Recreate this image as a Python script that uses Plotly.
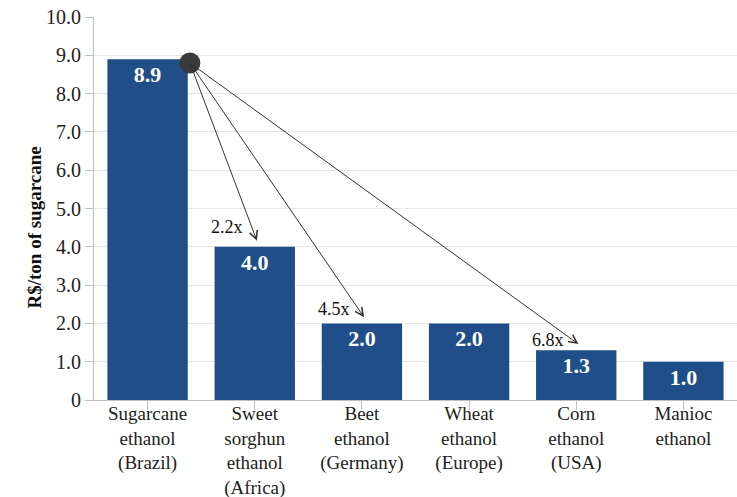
import plotly.graph_objects as go

# Ethanol yield by feedstock
categories = [
    "Sugarcane<br>ethanol<br>(Brazil)",
    "Sweet<br>sorghun<br>ethanol<br>(Africa)",
    "Beet<br>ethanol<br>(Germany)",
    "Wheat<br>ethanol<br>(Europe)",
    "Corn<br>ethanol<br>(USA)",
    "Manioc<br>ethanol",
]
values = [8.9, 4.0, 2.0, 2.0, 1.3, 1.0]
value_labels = ["8.9", "4.0", "2.0", "2.0", "1.3", "1.0"]

y_ticks = [0, 1, 2, 3, 4, 5, 6, 7, 8, 9, 10]
y_tick_text = ["0", "1.0", "2.0", "3.0", "4.0", "5.0", "6.0", "7.0", "8.0", "9.0", "10.0"]

# Ratio arrows: from the top corner of the first bar towards other bars
ratio_targets = [1, 2, 4]
ratio_labels = ["2.2x", "4.5x", "6.8x"]

FONT = "Palatino Linotype, Book Antiqua, Liberation Serif, serif"
BAR_COLOR = "#1f4e89"
BAR_WIDTH = 0.75

x_idx = list(range(len(categories)))

fig = go.Figure()
fig.add_trace(go.Bar(
    x=x_idx,
    y=values,
    width=BAR_WIDTH,
    marker=dict(color=BAR_COLOR, line=dict(width=0)),
    text=value_labels,
    textposition="inside",
    insidetextanchor="end",
    textangle=0,
    constraintext="none",
    textfont=dict(family=FONT, size=22, color="white", weight="bold"),
    hoverinfo="skip",
))

# Origin point of the arrows
origin_x = x_idx[0] + BAR_WIDTH / 2 + 0.02
origin_y = values[0] - 0.1

# pixel nudges for the ratio labels relative to each arrow tip
label_nudge_y = [14, 8, 4]

for tgt, lab, dy in zip(ratio_targets, ratio_labels, label_nudge_y):
    head_x = x_idx[tgt] + 0.02
    head_y = values[tgt] + 0.16
    fig.add_annotation(
        x=head_x, y=head_y, ax=origin_x, ay=origin_y,
        xref="x", yref="y", axref="x", ayref="y",
        showarrow=True, arrowhead=5, arrowsize=1.6, arrowwidth=1,
        arrowcolor="#333333", text="", standoff=0,
    )
    fig.add_annotation(
        x=head_x, y=head_y, xref="x", yref="y",
        xanchor="right", yanchor="middle", xshift=-12, yshift=dy,
        text=lab, showarrow=False,
        font=dict(family=FONT, size=18, color="#111111"),
    )

fig.add_trace(go.Scatter(
    x=[origin_x], y=[origin_y], mode="markers",
    marker=dict(size=21, color="#3a3a3a"),
    hoverinfo="skip", cliponaxis=False,
))

# Axis title
fig.add_annotation(
    xref="paper", yref="paper", x=-0.092, y=0.45,
    text="<b>R$/ton of sugarcane</b>", textangle=-90, showarrow=False,
    xanchor="center", yanchor="middle",
    font=dict(family=FONT, size=19, color="#111111"),
)

fig.update_layout(
    width=737, height=497,
    margin=dict(l=94, r=0, t=17, b=97),
    paper_bgcolor="white", plot_bgcolor="white",
    showlegend=False,
    font=dict(family=FONT, size=19, color="#222222"),
    bargap=0.25,
)
fig.update_xaxes(
    range=[-0.5, 5.5],
    tickvals=x_idx, ticktext=categories,
    tickson="boundaries", ticks="outside", ticklen=9,
    tickcolor="#bfbfbf", showline=True, linecolor="#bfbfbf",
    showgrid=False, tickfont=dict(family=FONT, size=19, color="#222222"),
    ticklabelstandoff=-13,
    automargin=False,
    fixedrange=True,
)
fig.update_yaxes(
    range=[0, 10],
    tickvals=y_ticks, ticktext=y_tick_text,
    ticks="outside", ticklen=8, tickcolor="#bfbfbf",
    showline=True, linecolor="#bfbfbf",
    showgrid=True, gridcolor="#e6e6e6", gridwidth=1,
    zeroline=False,
    tickfont=dict(family=FONT, size=20, color="#222222"),
    automargin=False,
    fixedrange=True,
)

fig.write_html("out.html")
